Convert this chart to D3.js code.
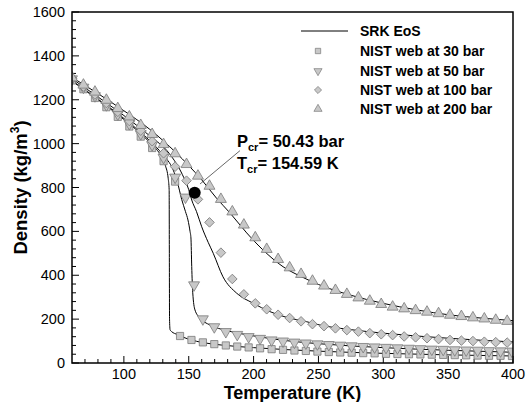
<!DOCTYPE html>
<html><head><meta charset="utf-8">
<script src="https://cdn.jsdelivr.net/npm/d3@7/dist/d3.min.js"></script>
<style>body{margin:0;background:#fff}svg{display:block}</style>
</head><body><svg id="c" width="526" height="402"></svg>
<script>
// ---- data ----
const xTicks = [100, 150, 200, 250, 300, 350, 400];
const yTicks = [0, 200, 400, 600, 800, 1000, 1200, 1400, 1600];
const legendLabels = ["SRK EoS", "NIST web at 30 bar", "NIST web at 50 bar", "NIST web at 100 bar", "NIST web at 200 bar"];

const T200 = [60, 68.8, 77.7, 86.5, 95.3, 104.2, 113, 121.8, 130.6, 139.5, 148.3, 157.1, 166, 174.8, 183.6, 192.5, 201.3, 210.1, 218.9, 227.8, 236.6, 245.4, 254.3, 263.1, 271.9, 280.8, 289.6, 298.4, 307.2, 316.1, 324.9, 333.7, 342.6, 351.4, 360.2, 369.1, 377.9, 386.7, 395.5];
const rho200 = [1305,1272,1240,1203,1165,1127,1088,1047,1001,959,910,857,811,751,694,634,576,523,477,439,409,378,356,336,318,302,287,272,260,252,244,237,230,223,217,211,206,200,195];
const T100 = [60, 68.8, 77.7, 86.5, 95.3, 104.2, 113, 121.8, 130.6, 139.5, 148.3, 157.1, 166, 174.8, 183.6, 192.5, 201.3, 210.1, 218.9, 227.8, 236.6, 245.4, 254.3, 263.1, 271.9, 280.8, 289.6, 298.4, 307.2, 316.1, 324.9, 333.7, 342.6, 351.4, 360.2, 369.1, 377.9, 386.7, 395.5];
const rho100 = [1297,1260,1224,1185,1145,1103,1059,1011,956,895,831,746,641,503,383,313,272,245,220,205,190,177,168,158,150,143,136,131,127,121,117,113,109,105,102,100,97,95,93];
const T50 = [60, 68.8, 77.7, 86.5, 95.3, 104.2, 113, 121.8, 130.6, 139.5, 147.5, 154.1, 160.9, 169.7, 178.6, 187.4, 196.2, 205, 213.9, 222.7, 231.5, 240.3, 249.2, 258, 266.8, 275.6, 284.5, 293.3, 302.1, 310.9, 319.8, 328.6, 337.4, 346.2, 355.1, 363.9, 372.7, 381.5, 390.4, 399.2];
const rho50 = [1290,1252,1213,1172,1130,1086,1040,990,932,842,751,351,196,160,138,125,115,107,100,95,90,86,82,79,76,73,70,68,66,64,62,60,58,57,55,54,53,51,50,49];
const T30 = [60, 68.8, 77.7, 86.5, 95.3, 104.2, 113, 121.8, 130.6, 139.5, 143.3, 152.1, 160.9, 169.7, 178.6, 187.4, 196.2, 205, 213.9, 222.7, 231.5, 240.3, 249.2, 258, 266.8, 275.6, 284.5, 293.3, 302.1, 310.9, 319.8, 328.6, 337.4, 346.2, 355.1, 363.9, 372.7, 381.5, 390.4, 399.2];
const rho30 = [1288,1248,1208,1166,1122,1078,1032,980,920,827,123,105,94,86,80,75,71,67,63,60,57,55,52,50,48,47,45,44,42,41,40,39,38,37,36,35,34,33,33,32];

const srkT30 = [60, 80, 100, 120, 128, 132, 134.2, 134.9, 135.05, 135.2, 135.6, 136.8, 139, 142, 146, 152, 160, 175, 200, 225, 250, 300, 350, 400];
const srk30 = [1285, 1200, 1110, 1005, 950, 900, 840, 790, 500, 200, 152, 143, 135, 128, 117, 105, 94, 82, 70, 61, 54, 44, 37, 32];
const srkT50 = [60, 80, 100, 120, 130, 138, 141, 144.6, 147.5, 149.4, 151, 151.7, 152.3, 153.1, 154.8, 158.7, 166.4, 179.3, 199.5, 225, 250, 300, 350, 400];
const srk50 = [1287, 1203, 1115, 1013, 950, 880, 830, 745, 690, 652, 600, 570, 440, 320, 242, 205, 173, 148, 124, 102, 88, 70, 58, 49];
const srkT100 = [60, 80, 100, 120, 135, 145, 150, 152.3, 156, 160, 165, 168.9, 176.4, 187, 199.5, 212.7, 225.5, 241, 251.2, 275, 300, 350, 400];
const srk100 = [1296, 1213, 1128, 1035, 955, 860, 790, 743, 690, 621, 550, 500, 393, 318, 273, 234, 208, 188, 173, 152, 136, 113, 96];
const srkT200 = [60, 80, 100, 120, 140, 150, 160, 171.6, 181.8, 194.7, 207.3, 222.7, 238.1, 250, 274.3, 299.8, 325.7, 351.4, 376.9, 400];
const srk200 = [1302, 1228, 1150, 1065, 960, 900, 835, 750, 684, 593, 515, 439, 390, 358, 310, 272, 242, 219, 204, 193];

const critT = 154.59, critRho = 776;
const critLabels = ["= 50.43 bar", "= 154.59 K"];

// ---- layout ----
const svg = d3.select("#c");
const W = 526, H = 402;
const m = {l: 72, r: 13, t: 12, b: 39};
const x = d3.scaleLinear().domain([60, 400]).range([m.l, W - m.r]);
const y = d3.scaleLinear().domain([0, 1600]).range([H - m.b, m.t]);
const FONT = "Arial, 'Liberation Sans', Helvetica, sans-serif";

svg.append("rect").attr("width", W).attr("height", H).attr("fill", "#fff");

// ticks (inside)
const g = svg.append("g");
const xMinor = d3.range(70, 400, 10).filter(v => v % 50 !== 0);
const yMinor = d3.range(40, 1600, 40).filter(v => v % 200 !== 0);
g.selectAll(".xmin").data(xMinor).join("line")
  .attr("x1", d => x(d)).attr("x2", d => x(d)).attr("y1", y(0)).attr("y2", y(0) - 4)
  .attr("stroke", "#000").attr("stroke-width", 1);
g.selectAll(".xmaj").data(xTicks).join("line")
  .attr("x1", d => x(d)).attr("x2", d => x(d)).attr("y1", y(0)).attr("y2", y(0) - 7)
  .attr("stroke", "#000").attr("stroke-width", 1);
g.selectAll(".ymin").data(yMinor).join("line")
  .attr("x1", x(60)).attr("x2", x(60) + 4).attr("y1", d => y(d)).attr("y2", d => y(d))
  .attr("stroke", "#000").attr("stroke-width", 1);
g.selectAll(".ymaj").data(yTicks).join("line")
  .attr("x1", x(60)).attr("x2", x(60) + 7).attr("y1", d => y(d)).attr("y2", d => y(d))
  .attr("stroke", "#000").attr("stroke-width", 1);

g.selectAll(".xl").data(xTicks).join("text")
  .attr("x", d => x(d)).attr("y", y(0) + 16).attr("text-anchor", "middle")
  .attr("font-family", FONT).attr("font-size", 14.5).text(d => d);
g.selectAll(".yl").data(yTicks).join("text")
  .attr("x", m.l - 7).attr("y", d => y(d) + 5).attr("text-anchor", "end")
  .attr("font-family", FONT).attr("font-size", 14.5).text(d => d);

// axis titles
svg.append("text").attr("x", (x(60) + x(400)) / 2).attr("y", 399).attr("text-anchor", "middle")
  .attr("font-family", FONT).attr("font-weight", "bold").attr("font-size", 18).text("Temperature (K)");
const yt = svg.append("text").attr("transform", `translate(27,${(y(0) + y(1600)) / 2}) rotate(-90)`)
  .attr("text-anchor", "middle").attr("font-family", FONT).attr("font-weight", "bold").attr("font-size", 18.5);
yt.append("tspan").text("Density (kg/m");
yt.append("tspan").attr("font-size", 12).attr("dy", -8).text("3");
yt.append("tspan").attr("dy", 8).text(")");

// clip
svg.append("clipPath").attr("id", "clip").append("rect")
  .attr("x", m.l).attr("y", m.t).attr("width", W - m.l - m.r).attr("height", H - m.t - m.b);
const plot = svg.append("g").attr("clip-path", "url(#clip)");

// SRK lines
const line = d3.line().x(d => x(d[0])).y(d => y(d[1])).curve(d3.curveMonotoneX);
[[srkT30, srk30], [srkT50, srk50], [srkT100, srk100], [srkT200, srk200]].forEach(([ts, vs]) => {
  plot.append("path").datum(ts.map((t, i) => [t, vs[i]])).attr("d", line)
    .attr("fill", "none").attr("stroke", "#000").attr("stroke-width", 1);
});

// markers
const mFill = "#c8c8c8", mStroke = "#7a7a7a";
const series = [
  {T: T30, R: rho30, type: d3.symbolSquare, size: 52, rot: 0},
  {T: T50, R: rho50, type: d3.symbolTriangle, size: 52, rot: 180},
  {T: T100, R: rho100, type: d3.symbolSquare, size: 46, rot: 45},
  {T: T200, R: rho200, type: d3.symbolTriangle, size: 52, rot: 0}
];
series.forEach(s => {
  const pts = s.T.map((t, i) => [t, s.R[i]]);
  plot.selectAll(null).data(pts).join("path")
    .attr("d", d3.symbol().type(s.type).size(s.size))
    .attr("transform", d => `translate(${x(d[0])},${y(d[1]) + (s.type === d3.symbolTriangle ? (s.rot ? -1 : 1) : 0)}) rotate(${s.rot})`)
    .attr("fill", mFill).attr("stroke", mStroke).attr("stroke-width", 0.8);
});

// critical point
plot.append("circle").attr("cx", x(critT)).attr("cy", y(critRho)).attr("r", 6).attr("fill", "#000");
svg.append("line").attr("x1", x(158.7)).attr("y1", y(816)).attr("x2", x(189.5)).attr("y2", y(968))
  .attr("stroke", "#000").attr("stroke-width", 0.6);
const ann = [["P", critLabels[0], 984], ["T", critLabels[1], 884]];
ann.forEach(([sym, lab, rv]) => {
  const t = svg.append("text").attr("x", x(187.2)).attr("y", y(rv))
    .attr("font-family", FONT).attr("font-weight", "bold").attr("font-size", 16.5);
  t.append("tspan").text(sym);
  t.append("tspan").attr("font-size", 11).attr("dy", 4).text("cr");
  t.append("tspan").attr("dy", -4).text(lab);
});

// frame
svg.append("rect").attr("x", m.l).attr("y", m.t).attr("width", W - m.l - m.r).attr("height", H - m.t - m.b)
  .attr("fill", "none").attr("stroke", "#000").attr("stroke-width", 1.5);

// legend
const lg = svg.append("g");
const rowY = [31, 51, 71, 90, 109];
lg.append("line").attr("x1", 301).attr("x2", 348).attr("y1", rowY[0]).attr("y2", rowY[0])
  .attr("stroke", "#000").attr("stroke-width", 1);
series.forEach((s, i) => {
  lg.append("path").attr("d", d3.symbol().type(s.type).size(s.size * 0.55))
    .attr("transform", `translate(318,${rowY[i + 1]}) rotate(${s.rot})`)
    .attr("fill", mFill).attr("stroke", mStroke).attr("stroke-width", 0.7);
});
legendLabels.forEach((l, i) => {
  lg.append("text").attr("x", 360).attr("y", rowY[i] + 5)
    .attr("font-family", FONT).attr("font-weight", "bold").attr("font-size", 14).text(l);
});
</script>
</body></html>
